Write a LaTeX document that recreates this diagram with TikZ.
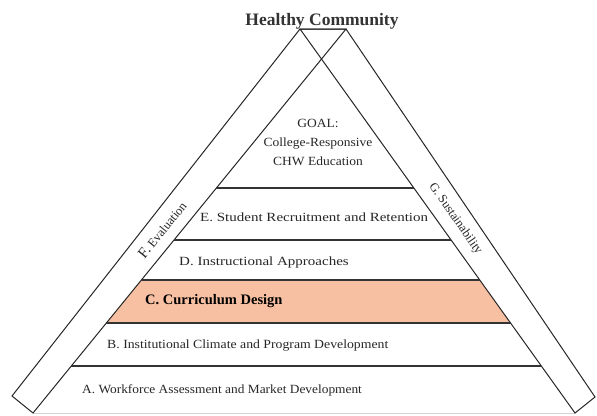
\documentclass[tikz,border=0pt]{standalone}
\usepackage{fontspec}
\setmainfont{Liberation Serif}
\usetikzlibrary{calc}
\definecolor{salmon}{RGB}{248,192,162}
\tikzset{
  strip/.style={draw=black!85,line width=1pt,line join=miter},
  layer/.style={draw=black!80,line width=1.5pt},
  lbl/.style={anchor=west,inner sep=0pt,font=\fontsize{12.5}{15}\selectfont,text=black!85},
  band/.style={inner sep=0pt,font=\fontsize{12.5}{14}\selectfont,text=black!85}
}
\begin{document}
\begin{tikzpicture}[x=1pt,y=-1pt]
\useasboundingbox (0,0) rectangle (597,415);
% strip corners
\coordinate (tl) at (300,29);
\coordinate (tr) at (346,29);
\coordinate (lo) at (12,396);
\coordinate (li) at (33,413);
\coordinate (ro) at (595,397);
\coordinate (ri) at (575,413);
% layer ends on the inner edges
\coordinate (g-l) at ($(tr)!0.4141!(li)$);
\coordinate (g-r) at ($(tl)!0.4141!(ri)$);
\coordinate (e-l) at ($(tr)!0.5495!(li)$);
\coordinate (e-r) at ($(tl)!0.5495!(ri)$);
\coordinate (d-l) at ($(tr)!0.6536!(li)$);
\coordinate (d-r) at ($(tl)!0.6536!(ri)$);
\coordinate (c-l) at ($(tr)!0.7656!(li)$);
\coordinate (c-r) at ($(tl)!0.7656!(ri)$);
\coordinate (b-l) at ($(tr)!0.8776!(li)$);
\coordinate (b-r) at ($(tl)!0.8776!(ri)$);
% middle of each strip
\coordinate (f-mid) at ($($(tl)!0.535!(lo)$)!0.5!($(tr)!0.535!(li)$)$);
\coordinate (s-mid) at ($($(tr)!0.505!(ro)$)!0.5!($(tl)!0.505!(ri)$)$);

\fill[salmon] (d-l) -- (d-r) -- (c-r) -- (c-l) -- cycle;
\draw[gray!35,line width=1pt] (li) -- (ri);

\draw[strip] (tr) -- (tl) -- (lo) -- (li) -- cycle;
\draw[strip] (tl) -- (tr) -- (ro) -- (ri) -- cycle;

\path[layer]
  (g-l) edge (g-r)
  (e-l) edge (e-r)
  (d-l) edge (d-r)
  (c-l) edge (c-r)
  (b-l) edge (b-r);

\node(top) at (322,21)[inner sep=0pt,font=\fontsize{17.5}{19}\selectfont\bfseries,text=black!80] {Healthy Community};
\node(goal) at (318,142)[inner sep=0pt,align=center,xscale=1.08,font=\fontsize{12.5}{19}\selectfont,text=black!85] {GOAL:\\College-Responsive\\CHW Education};
\node(e) at (200,217)[lbl,xscale=1.2] {E. Student Recruitment and Retention};
\node(d) at (179,262)[lbl,xscale=1.2] {D. Instructional Approaches};
\node(c) at (145,301)[lbl,font=\fontsize{14.5}{16}\selectfont\bfseries,text=black] {C. Curriculum Design};
\node(b) at (107,346)[lbl,xscale=1.1] {B. Institutional Climate and Program Development};
\node(a) at (82,390)[lbl,xscale=1.07] {A. Workforce Assessment and Market Development};
\node(f) at (f-mid)[band,rotate=51] {{\fontsize{15}{15}\selectfont F.} Evaluation};
\node(g) at (s-mid)[band,rotate=-55] {G. Sustainability};
\end{tikzpicture}
\end{document}
